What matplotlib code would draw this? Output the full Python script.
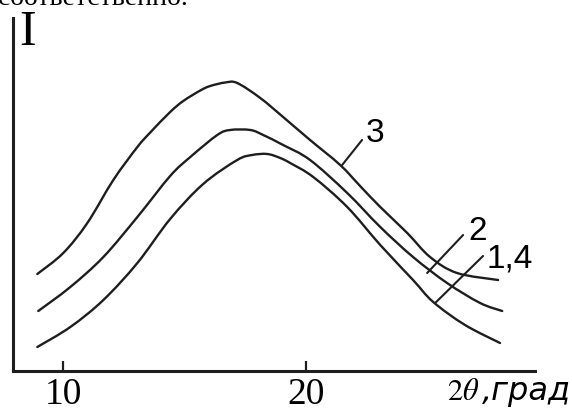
import matplotlib
matplotlib.use("Agg")
import matplotlib.pyplot as plt
from matplotlib.path import Path
from matplotlib.patches import PathPatch

# ---- data (2θ in degrees, intensity in arbitrary units) ----
theta_3 = [8.93, 10.00, 10.99, 12.06, 13.05, 13.58, 14.40, 14.94, 15.64, 16.05, 16.67,
           17.16, 18.11, 19.05, 20.16, 21.40, 22.22, 23.05, 24.16, 25.10, 26.21, 27.90]
inten_3 = [9.7, 11.8, 14.8, 19.1, 22.4, 23.85, 25.9, 27.0, 28.05, 28.5, 28.85,
           28.8, 27.3, 25.4, 23.1, 20.6, 18.5, 16.4, 13.8, 11.4, 9.8, 9.1]

theta_2 = [8.97, 10.29, 11.65, 13.05, 14.40, 15.23, 16.34, 16.87, 17.70, 18.23, 19.05,
           20.16, 21.69, 23.05, 24.40, 25.80, 27.16, 28.07]
inten_2 = [6.0, 8.4, 11.4, 15.4, 19.5, 21.4, 23.6, 24.1, 24.1, 23.6, 22.6,
           21.1, 17.8, 14.4, 11.4, 8.8, 6.8, 6.0]

theta_14 = [8.93, 10.29, 11.65, 13.05, 14.40, 15.76, 17.16, 17.78, 18.40, 18.93, 19.34,
            20.29, 21.69, 23.05, 24.40, 25.23, 26.54, 27.98]
inten_14 = [2.4, 4.4, 7.1, 10.8, 15.2, 18.7, 21.1, 21.6, 21.7, 21.3, 20.8,
            19.4, 16.4, 12.6, 9.1, 6.9, 4.6, 2.8]

xticks = [10, 20]
xtick_labels = ["10", "20"]
curve_labels = ["3", "2", "1,4"]

W, H = 572, 412
plt.rcParams["mathtext.fontset"] = "stix"
fig = plt.figure(figsize=(W / 100, H / 100), dpi=100)
ax = fig.add_axes([13 / W, (H - 371) / H, (535 - 13) / W, (371 - 18) / H])
ax.set_xlim(7.93, 29.42)
ax.set_ylim(0, 35.3)

ink = "#1e1e1e"


def smooth_path(xs, ys):
    """Catmull-Rom curve through the data points, as cubic Bezier segments."""
    pts = list(zip(xs, ys))
    n = len(pts)
    verts = [pts[0]]
    codes = [Path.MOVETO]
    for i in range(n - 1):
        p0 = pts[i - 1] if i > 0 else pts[i]
        p1 = pts[i]
        p2 = pts[i + 1]
        p3 = pts[i + 2] if i + 2 < n else pts[i + 1]
        c1 = (p1[0] + (p2[0] - p0[0]) / 6, p1[1] + (p2[1] - p0[1]) / 6)
        c2 = (p2[0] - (p3[0] - p1[0]) / 6, p2[1] - (p3[1] - p1[1]) / 6)
        verts += [c1, c2, p2]
        codes += [Path.CURVE4] * 3
    return Path(verts, codes)


for xs, ys in [(theta_3, inten_3), (theta_2, inten_2), (theta_14, inten_14)]:
    ax.add_patch(PathPatch(smooth_path(xs, ys), fill=False, edgecolor=ink, lw=1.7,
                           capstyle="round", joinstyle="round"))

for s in ["top", "right"]:
    ax.spines[s].set_visible(False)
for s in ["left", "bottom"]:
    ax.spines[s].set_linewidth(2.2)
    ax.spines[s].set_color(ink)

ax.set_xticks(xticks)
ax.set_xticklabels(xtick_labels, fontfamily="Liberation Serif", fontsize=27)
ax.tick_params(axis="x", direction="in", length=7, width=1.6, color=ink, pad=5,
               labelcolor="black")
ax.set_yticks([])

# leader lines and curve numbers
leaders = [((21.48, 20.6), (22.30, 23.1), (22.47, 22.9)),
           ((24.98, 9.8), (26.46, 13.6), (26.67, 13.1)),
           ((25.31, 6.8), (27.28, 11.5), (27.44, 10.3))]
for lab, (p0, p1, tpos) in zip(curve_labels, leaders):
    ax.annotate("", xy=p0, xytext=p1,
                arrowprops=dict(arrowstyle="-", color=ink, lw=1.5,
                                shrinkA=0, shrinkB=0))
    ax.text(tpos[0], tpos[1], lab, fontfamily="Liberation Sans", fontsize=24,
            ha="left", va="baseline", color="black")

# axis labels
fig.text(19 / W, (H - 45) / H, "I", fontfamily="Liberation Serif", fontsize=36,
         ha="left", va="baseline")
fig.text(447 / W, (H - 400) / H, r"$2\theta$", fontsize=22, ha="left", va="baseline")
fig.text(482 / W, (H - 400) / H, ",град", fontfamily="DejaVu Sans", style="italic",
         fontsize=23, ha="left", va="baseline")

# cut-off line of text above the figure
fig.text(-2 / W, (H - 5) / H, "соответственно.", fontfamily="Liberation Serif",
         fontsize=20, ha="left", va="baseline")

fig.savefig("out.png", dpi=100)
